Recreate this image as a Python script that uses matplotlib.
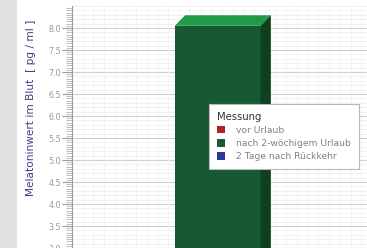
import numpy as np
import matplotlib
matplotlib.use("Agg")
import matplotlib.pyplot as plt
from matplotlib.patches import Patch, Polygon, Rectangle

# data
series = ["vor Urlaub", "nach 2-wöchigem Urlaub", "2 Tage nach Rückkehr"]
colours = ["#b3202c", "#1a5a35", "#2b3b9c"]
bar_series = ["nach 2-wöchigem Urlaub"]
bar_values = [8.05]
y_ticks = [3.0, 3.5, 4.0, 4.5, 5.0, 5.5, 6.0, 6.5, 7.0, 7.5, 8.0]

W, H = 367, 248
fig = plt.figure(figsize=(W / 100, H / 100), dpi=100)
fig.patch.set_facecolor("white")

# grey strip at the left edge
fig.add_artist(Rectangle((0, 0), 17 / W, 1, transform=fig.transFigure,
                         facecolor="#dfe2df", edgecolor="none", zorder=0))

# axes run off the right and bottom edge (cropped chart)
ax_left, ax_top, ax_bottom = 72, 6, 252
ax = fig.add_axes([ax_left / W, (H - ax_bottom) / H, (W + 5 - ax_left) / W,
                   (ax_bottom - ax_top) / H])
ax.set_ylim(2.91, 8.5)
ax.set_xlim(-0.7, 2.8)

ax.set_yticks(y_ticks)
ax.set_yticks(np.arange(2.95, 8.5, 0.05), minor=True)
ax.set_yticklabels([f"{v:.1f}" for v in y_ticks], color="#999999", fontsize=5.8)
ax.tick_params(axis="y", which="major", length=7, width=0.8, color="#9a9a9a", pad=1)
ax.tick_params(axis="y", which="minor", length=4, width=0.5, color="#a8a8a8")
ax.set_xticks([])
for s in ["top", "right", "bottom"]:
    ax.spines[s].set_visible(False)
ax.spines["left"].set_color("#9a9a9a")
ax.spines["left"].set_linewidth(0.8)

# grid
for v in np.arange(3.0, 8.51, 0.1):
    ax.axhline(v, color="#ececec", lw=0.5, zorder=0)
for v in y_ticks:
    ax.axhline(v, color="#cfcfcf", lw=0.8, zorder=0)
for xv in np.arange(-0.7, 2.8, 0.125):
    ax.axvline(xv, color="#efefef", lw=0.5, zorder=0)

# 3d bar
dx, dy = 0.12, 0.24
for name, val in zip(bar_series, bar_values):
    i = series.index(name)
    left, right = 0.5, 1.5
    ax.bar([1.0], [val], width=1.0, color="#175a32", edgecolor="none", zorder=3)
    ax.add_patch(Polygon([(left, val), (left + dx, val + dy), (right + dx, val + dy),
                          (right, val)], closed=True, facecolor="#1f9a46",
                         edgecolor="none", zorder=3))
    ax.add_patch(Polygon([(right, 0), (right, val), (right + dx, val + dy),
                          (right + dx, 0)], closed=True, facecolor="#0e3f1f",
                         edgecolor="none", zorder=3))

fig.text(31 / W, 1 - 108 / H, "Melatoninwert im Blut  [ pg / ml ]", rotation=90,
         ha="center", va="center", fontsize=7.6, color="#3c3c88")

handles = [Patch(facecolor=c, edgecolor="none") for c in colours]
leg = fig.legend(handles, series, loc="upper left",
                 bbox_to_anchor=(209 / W, 1 - 104 / H), title="Messung",
                 fontsize=6.6, title_fontsize=7.2, frameon=True, fancybox=False,
                 framealpha=1.0,
                 handlelength=0.85, handleheight=0.85, handletextpad=1.3,
                 labelspacing=0.45, borderpad=0.85, borderaxespad=0,
                 alignment="left")
leg.get_frame().set_edgecolor("#b8b8b8")
leg.get_frame().set_linewidth(0.8)
for t in leg.get_texts():
    t.set_color("#808080")
leg.get_title().set_color("#333333")

fig.savefig("out.png", dpi=100)
